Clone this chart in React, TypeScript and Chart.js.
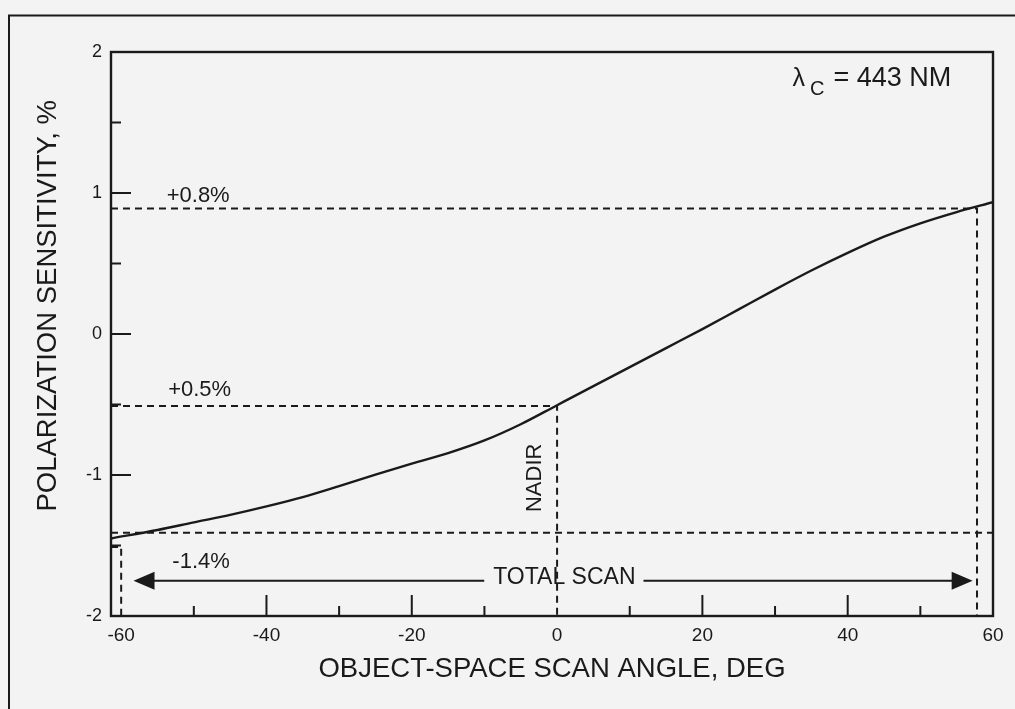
import React, { useEffect, useRef } from 'react';
import { Chart, registerables } from 'chart.js';

Chart.register(...registerables);

// ---- data ----
const ANGLE = [-61.4, -55, -50, -45, -40, -35, -30, -25, -20, -15, -10, -5, 0, 5, 10, 15, 20, 25, 30, 35, 40, 45, 50, 55, 60];
const SENSITIVITY = [-1.45, -1.39, -1.336, -1.283, -1.223, -1.157, -1.079, -0.998, -0.92, -0.845, -0.755, -0.64, -0.505, -0.37, -0.235, -0.1, 0.035, 0.175, 0.315, 0.45, 0.575, 0.69, 0.785, 0.865, 0.935];

const X_MIN = -61.4;
const X_MAX = 60;
const Y_MIN = -2;
const Y_MAX = 2;
const X_TICKS = [-60, -40, -20, 0, 20, 40, 60];
const X_MAJOR_MARKS = [-40, -20, 20, 40];
const X_MINOR_MARKS = [-50, -30, -10, 10, 30, 50];
const Y_TICKS = [-2, -1, 0, 1, 2];
const Y_MAJOR_MARKS = [-1, 0, 1];
const Y_MINOR_MARKS = [-1.5, -0.5, 0.5, 1.5];

// guide lines
const LEVEL_HIGH = 0.89;
const LEVEL_NADIR = -0.51;
const LEVEL_LOW = -1.41;
const LEVEL_EDGE = -1.51;
const SCAN_EDGE_LEFT = -60;
const SCAN_EDGE_RIGHT = 57.8;
const NADIR_ANGLE = 0;

// total scan arrow
const ARROW_LEVEL = -1.75;
const ARROW_FROM = -58.3;
const ARROW_TO = 57.2;
const TOTAL_SCAN_AT = [1.0, -1.73];

// text annotations
const PCT_LABELS = ['+0.8%', '+0.5%', '-1.4%'];
const PCT_LABEL_X = [-49.4, -49.2, -49.0];
const PCT_LABEL_Y = [0.98, -0.4, -1.62];
const NADIR_LABEL_AT = [-3.0, -1.02];
const LAMBDA_AT = [32.4, 1.76];
const Y_TITLE = 'POLARIZATION SENSITIVITY, %';
const Y_TITLE_CENTER = 0.2; // value at which the rotated y title is centred

const FONT = '"Liberation Sans", Arial, Helvetica, sans-serif';
const INK = '#1a1a1a';

const pts = (xs: number[], ys: number[]) => xs.map((x, i) => ({ x, y: ys[i] }));

const decorPlugin = {
  id: 'decor',
  beforeDraw(chart: any) {
    const { ctx, width, height } = chart;
    ctx.save();
    ctx.strokeStyle = INK;
    ctx.lineWidth = 2;
    ctx.beginPath();
    ctx.moveTo(9, height);
    ctx.lineTo(9, 15.5);
    ctx.lineTo(width, 15.5);
    ctx.stroke();
    ctx.restore();
  },
  afterDatasetsDraw(chart: any) {
    const { ctx, chartArea: a } = chart;
    const xs = chart.scales.x;
    const ys = chart.scales.y;
    const X = (v: number) => xs.getPixelForValue(v);
    const Y = (v: number) => ys.getPixelForValue(v);
    ctx.save();
    ctx.strokeStyle = INK;
    ctx.fillStyle = INK;
    // plot frame
    ctx.lineWidth = 2.4;
    ctx.strokeRect(a.left, a.top, a.right - a.left, a.bottom - a.top);
    // inward ticks
    ctx.lineWidth = 2;
    ctx.beginPath();
    Y_MAJOR_MARKS.forEach((v) => { ctx.moveTo(a.left, Y(v)); ctx.lineTo(a.left + 20, Y(v)); });
    Y_MINOR_MARKS.forEach((v) => { ctx.moveTo(a.left, Y(v)); ctx.lineTo(a.left + 10, Y(v)); });
    X_MAJOR_MARKS.forEach((v) => { ctx.moveTo(X(v), a.bottom); ctx.lineTo(X(v), a.bottom - 21); });
    X_MINOR_MARKS.forEach((v) => { ctx.moveTo(X(v), a.bottom); ctx.lineTo(X(v), a.bottom - 10); });
    ctx.stroke();

    ctx.textAlign = 'center';
    ctx.textBaseline = 'middle';

    // y axis title
    ctx.save();
    ctx.translate(a.left - 63, Y(Y_TITLE_CENTER));
    ctx.rotate(-Math.PI / 2);
    ctx.font = `27.5px ${FONT}`;
    ctx.fillText(Y_TITLE, 0, 0);
    ctx.restore();

    // percent labels
    ctx.font = `22px ${FONT}`;
    PCT_LABELS.forEach((t, i) => ctx.fillText(t, X(PCT_LABEL_X[i]), Y(PCT_LABEL_Y[i])));

    // NADIR
    ctx.save();
    ctx.translate(X(NADIR_LABEL_AT[0]), Y(NADIR_LABEL_AT[1]));
    ctx.rotate(-Math.PI / 2);
    ctx.font = `22px ${FONT}`;
    ctx.fillText('NADIR', 0, 0);
    ctx.restore();

    // total scan arrow
    const ay = Y(ARROW_LEVEL);
    const xl = X(ARROW_FROM);
    const xr = X(ARROW_TO);
    const tx = X(TOTAL_SCAN_AT[0]);
    ctx.font = `23px ${FONT}`;
    const tw = ctx.measureText('TOTAL SCAN').width;
    const head = 21;
    const half = 9;
    ctx.lineWidth = 2.2;
    ctx.beginPath();
    ctx.moveTo(xl + head - 2, ay);
    ctx.lineTo(tx - tw / 2 - 9, ay);
    ctx.moveTo(tx + tw / 2 + 8, ay);
    ctx.lineTo(xr - head + 2, ay);
    ctx.stroke();
    ctx.beginPath();
    ctx.moveTo(xl, ay);
    ctx.lineTo(xl + head, ay - half);
    ctx.lineTo(xl + head, ay + half);
    ctx.closePath();
    ctx.moveTo(xr, ay);
    ctx.lineTo(xr - head, ay - half);
    ctx.lineTo(xr - head, ay + half);
    ctx.closePath();
    ctx.fill();
    ctx.fillText('TOTAL SCAN', tx, Y(TOTAL_SCAN_AT[1]));

    // lambda label
    ctx.textAlign = 'left';
    ctx.textBaseline = 'alphabetic';
    let lx = X(LAMBDA_AT[0]);
    const ly = Y(LAMBDA_AT[1]);
    ctx.font = `25px ${FONT}`;
    ctx.fillText('λ', lx, ly);
    lx += ctx.measureText('λ').width + 5;
    ctx.font = `20px ${FONT}`;
    ctx.fillText('C', lx, ly + 9);
    lx += ctx.measureText('C').width + 9;
    ctx.font = `27px ${FONT}`;
    ctx.fillText('= 443 NM', lx, ly);
    ctx.restore();
  },
};

export default function App() {
  const ref = useRef<HTMLCanvasElement | null>(null);
  useEffect(() => {
    if (!ref.current) return;
    Chart.defaults.font.family = FONT;
    Chart.defaults.color = INK;
    const dashed = {
      borderColor: INK,
      borderWidth: 2,
      borderDash: [7, 5],
      pointRadius: 0,
      tension: 0,
      fill: false,
    };
    const chart = new Chart(ref.current, {
      type: 'line',
      data: {
        datasets: [
          {
            label: 'Polarization sensitivity',
            data: pts(ANGLE, SENSITIVITY),
            borderColor: INK,
            borderWidth: 2.4,
            pointRadius: 0,
            cubicInterpolationMode: 'monotone',
            fill: false,
          },
          { label: 'high', data: pts([X_MIN, SCAN_EDGE_RIGHT, SCAN_EDGE_RIGHT], [LEVEL_HIGH, LEVEL_HIGH, Y_MIN]), ...dashed },
          { label: 'nadir', data: pts([X_MIN, NADIR_ANGLE, NADIR_ANGLE], [LEVEL_NADIR, LEVEL_NADIR, Y_MIN]), ...dashed },
          { label: 'low', data: pts([X_MIN, X_MAX], [LEVEL_LOW, LEVEL_LOW]), ...dashed },
          { label: 'edge', data: pts([X_MIN, SCAN_EDGE_LEFT, SCAN_EDGE_LEFT], [LEVEL_EDGE, LEVEL_EDGE, Y_MIN]), ...dashed },
        ],
      },
      options: {
        animation: false,
        responsive: false,
        events: [],
        layout: { padding: { left: 0, top: 52, right: 22, bottom: 0 } },
        plugins: { legend: { display: false }, tooltip: { enabled: false } },
        scales: {
          x: {
            type: 'linear',
            min: X_MIN,
            max: X_MAX,
            afterBuildTicks: (axis: any) => { axis.ticks = X_TICKS.map((v) => ({ value: v })); },
            afterFit: (s: any) => { s.height = 93; },
            grid: { display: true, drawOnChartArea: false, drawTicks: false },
            border: { display: false },
            ticks: {
              autoSkip: false,
              maxRotation: 0,
              padding: 8,
              font: { size: 19 },
              color: INK,
              callback: (v: any) => String(v),
            },
            title: {
              display: true,
              text: 'OBJECT-SPACE SCAN ANGLE, DEG',
              font: { size: 27.5 },
              color: INK,
              padding: { top: 0, bottom: 23 },
            },
          },
          y: {
            type: 'linear',
            min: Y_MIN,
            max: Y_MAX,
            afterBuildTicks: (axis: any) => { axis.ticks = Y_TICKS.map((v) => ({ value: v })); },
            afterFit: (s: any) => { s.width = 111; },
            grid: { display: true, drawOnChartArea: false, drawTicks: false },
            border: { display: false },
            ticks: {
              autoSkip: false,
              padding: 9,
              font: { size: 18 },
              color: INK,
              callback: (v: any) => String(v),
            },
            title: { display: false },
          },
        },
      },
      plugins: [decorPlugin],
    });
    return () => chart.destroy();
  }, []);
  return (
    <div style={{ position: 'fixed', left: 0, top: 0, width: 1015, height: 709, background: '#f3f3f3' }}>
      <canvas ref={ref} width={1015} height={709} style={{ width: 1015, height: 709, display: 'block' }} />
    </div>
  );
}
